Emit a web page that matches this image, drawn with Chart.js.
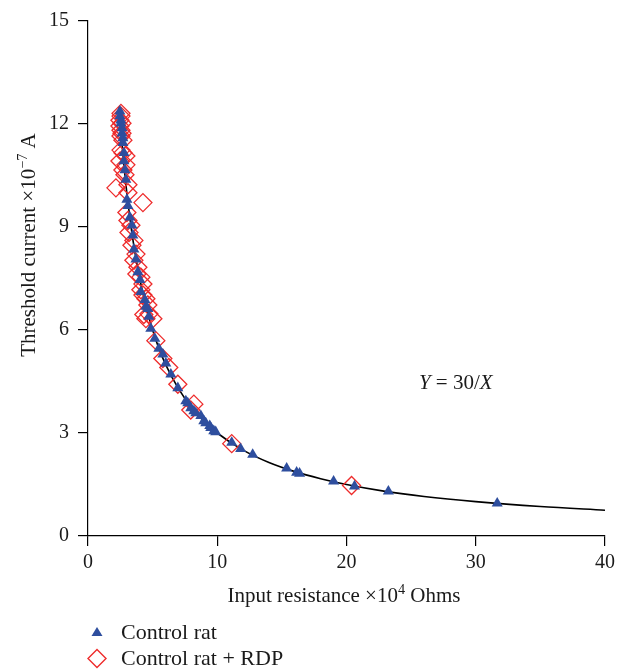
<!DOCTYPE html>
<html>
<head>
<meta charset="utf-8">
<script src="https://cdn.jsdelivr.net/npm/chart.js@4.4.0/dist/chart.umd.min.js"></script>
<style>
  html, body { margin: 0; padding: 0; background: #fff; }
</style>
</head>
<body>
<canvas id="chart" width="626" height="671"></canvas>
<script>
// Control rat (blue triangles)
const ratX = [2.47, 2.47, 2.55, 2.55, 2.63, 2.63, 2.70, 2.70, 2.78, 2.78, 2.86, 2.93, 3.01, 3.09, 3.24, 3.40,
  3.47, 3.55, 3.71, 3.86, 4.02, 4.09, 4.40, 4.48, 4.63, 4.71, 4.86, 5.17, 5.48, 5.79, 6.02, 6.41, 6.95,
  7.57, 7.72, 7.95, 8.19, 8.34, 8.73, 8.96, 9.11, 9.42, 9.50, 9.73, 9.88, 11.12, 11.81, 12.74, 15.37,
  16.14, 16.37, 19.00, 20.62, 23.24, 31.66];
const ratY = [12.37, 12.23, 12.11, 12.02, 11.88, 11.73, 11.59, 11.45, 11.16, 10.92, 10.66, 10.38, 9.80, 9.62, 9.28, 9.05,
  8.76, 8.35, 8.06, 7.69, 7.46, 7.11, 6.88, 6.68, 6.62, 6.39, 6.04, 5.75, 5.46, 5.29, 5.03, 4.71, 4.31,
  3.93, 3.87, 3.73, 3.64, 3.58, 3.50, 3.35, 3.29, 3.21, 3.15, 3.06, 3.03, 2.72, 2.54, 2.37, 1.97,
  1.85, 1.82, 1.59, 1.45, 1.30, 0.95];

// Control rat + RDP (red open diamonds)
const rdpX = [2.55, 2.55, 2.47, 2.63, 2.47, 2.55, 2.63, 2.55, 2.70, 2.55, 2.70, 2.93, 2.47, 2.93, 2.70, 2.86,
  2.16, 3.09, 3.09, 4.25, 3.01, 3.09, 3.32, 3.17, 3.55, 3.40, 3.71, 3.55, 3.86, 3.78, 4.09, 4.25, 4.09,
  4.25, 4.48, 4.63, 4.32, 4.71, 5.02, 4.48, 5.25, 5.79, 6.25, 6.95, 8.19, 7.95, 11.12, 20.39];
const rdpY = [12.31, 12.23, 12.11, 12.02, 11.94, 11.82, 11.73, 11.65, 11.53, 11.24, 11.16, 11.07, 10.92, 10.81, 10.66, 10.52,
  10.14, 10.23, 10.00, 9.71, 9.42, 9.19, 9.05, 8.84, 8.61, 8.47, 8.21, 8.03, 7.83, 7.63, 7.54, 7.34, 7.17,
  7.02, 6.91, 6.73, 6.45, 6.47, 6.33, 6.33, 5.69, 5.17, 4.91, 4.42, 3.84, 3.67, 2.69, 1.47];

// Fitted curve Y = 30/X
const fitX = [2.4, 2.6, 2.8, 3.0, 3.25, 3.5, 3.75, 4.0, 4.5, 5.0, 5.5, 6.0, 7.0, 8.0, 9.0, 10.0,
  12.0, 14.0, 16.0, 18.0, 20.0, 23.0, 26.0, 30.0, 35.0, 40.0];
const fitY = [12.5, 11.54, 10.71, 10.0, 9.23, 8.57, 8.0, 7.5, 6.67, 6.0, 5.45, 5.0, 4.29, 3.75, 3.33, 3.0,
  2.5, 2.14, 1.875, 1.67, 1.5, 1.30, 1.15, 1.0, 0.857, 0.75];

const xTicks = [0, 10, 20, 30, 40];
const yTicks = [0, 3, 6, 9, 12, 15];

const BLUE = '#2e4e9e';
const RED = '#ee2b2b';
const SERIF = '"Liberation Serif", "DejaVu Serif", serif';

function toPoints(xs, ys) {
  return xs.map((x, i) => ({ x: x, y: ys[i] }));
}

// draws a run of text pieces, some raised as superscripts or set in italics
function drawRich(ctx, parts, x, y, size) {
  let cx = x;
  parts.forEach(p => {
    const s = p.sup ? size * 0.68 : size;
    ctx.font = (p.it ? 'italic ' : '') + s + 'px ' + SERIF;
    ctx.fillText(p.t, cx, p.sup ? y - size * 0.38 : y);
    cx += ctx.measureText(p.t).width;
  });
  return cx - x;
}
function richWidth(ctx, parts, size) {
  let w = 0;
  parts.forEach(p => {
    const s = p.sup ? size * 0.68 : size;
    ctx.font = (p.it ? 'italic ' : '') + s + 'px ' + SERIF;
    w += ctx.measureText(p.t).width;
  });
  return w;
}

const extras = {
  id: 'extras',
  afterDraw(chart) {
    const ctx = chart.ctx;
    const xs = chart.scales.x, ys = chart.scales.y;
    ctx.save();
    ctx.fillStyle = '#1a1a1a';
    ctx.textBaseline = 'alphabetic';
    ctx.textAlign = 'left';

    // x axis title
    const xt = [{ t: 'Input resistance \u00d710' }, { t: '4', sup: true }, { t: ' Ohms' }];
    const xw = richWidth(ctx, xt, 21);
    drawRich(ctx, xt, 344 - xw / 2, 602, 21);

    // y axis title (rotated)
    const yt = [{ t: 'Threshold current \u00d710' }, { t: '\u22127', sup: true }, { t: ' A' }];
    const yw = richWidth(ctx, yt, 21);
    ctx.save();
    ctx.translate(35, 245);
    ctx.rotate(-Math.PI / 2);
    drawRich(ctx, yt, -yw / 2, 0, 21);
    ctx.restore();

    // equation label
    const eq = [{ t: 'Y', it: true }, { t: ' = 30/' }, { t: 'X', it: true }];
    drawRich(ctx, eq, xs.getPixelForValue(25.6), ys.getPixelForValue(4.5) + 7, 21);

    // legend
    ctx.fillStyle = BLUE;
    ctx.beginPath();
    ctx.moveTo(97, 627);
    ctx.lineTo(102.5, 636);
    ctx.lineTo(91.5, 636);
    ctx.closePath();
    ctx.fill();
    ctx.strokeStyle = RED;
    ctx.lineWidth = 1.4;
    ctx.beginPath();
    ctx.moveTo(97, 649.5);
    ctx.lineTo(106, 658.5);
    ctx.lineTo(97, 667.5);
    ctx.lineTo(88, 658.5);
    ctx.closePath();
    ctx.stroke();
    ctx.fillStyle = '#1a1a1a';
    ctx.font = '22px ' + SERIF;
    ctx.fillText('Control rat', 121, 639);
    ctx.fillText('Control rat + RDP', 121, 665);
    ctx.restore();
  }
};

new Chart(document.getElementById('chart'), {
  type: 'scatter',
  data: {
    datasets: [
      {
        label: 'Control rat',
        data: toPoints(ratX, ratY),
        pointStyle: 'triangle',
        pointRadius: 6.4,
        pointHoverRadius: 6.4,
        backgroundColor: BLUE,
        borderColor: BLUE,
        borderWidth: 0
      },
      {
        label: 'Control rat + RDP',
        data: toPoints(rdpX, rdpY),
        pointStyle: 'rectRot',
        pointRadius: 9,
        pointHoverRadius: 9,
        backgroundColor: 'rgba(0,0,0,0)',
        borderColor: RED,
        borderWidth: 1.3
      },
      {
        type: 'line',
        label: 'Y = 30/X',
        data: toPoints(fitX, fitY),
        borderColor: '#000',
        borderWidth: 1.6,
        pointRadius: 0,
        fill: false,
        cubicInterpolationMode: 'monotone'
      }
    ]
  },
  options: {
    responsive: false,
    animation: false,
    layout: { padding: { left: 0, top: 17, right: 21, bottom: 67 } },
    plugins: { legend: { display: false }, tooltip: { enabled: false } },
    scales: {
      x: {
        type: 'linear',
        min: 0, max: 40,
        afterBuildTicks: s => { s.ticks = xTicks.map(v => ({ value: v })); },
        afterFit: s => { s.height = 68; },
        grid: { drawOnChartArea: false, drawTicks: true, tickLength: 10, color: '#000', lineWidth: 1.2 },
        border: { display: true, color: '#000', width: 1.2 },
        ticks: { color: '#1a1a1a', padding: 5, font: { family: SERIF, size: 20 } }
      },
      y: {
        type: 'linear',
        min: 0, max: 15,
        afterBuildTicks: s => { s.ticks = yTicks.map(v => ({ value: v })); },
        afterFit: s => { s.width = 88; },
        grid: { drawOnChartArea: false, drawTicks: true, tickLength: 10, color: '#000', lineWidth: 1.2 },
        border: { display: true, color: '#000', width: 1.2 },
        ticks: { color: '#1a1a1a', padding: 9, font: { family: SERIF, size: 20 } }
      }
    }
  },
  plugins: [extras]
});
</script>
</body>
</html>
